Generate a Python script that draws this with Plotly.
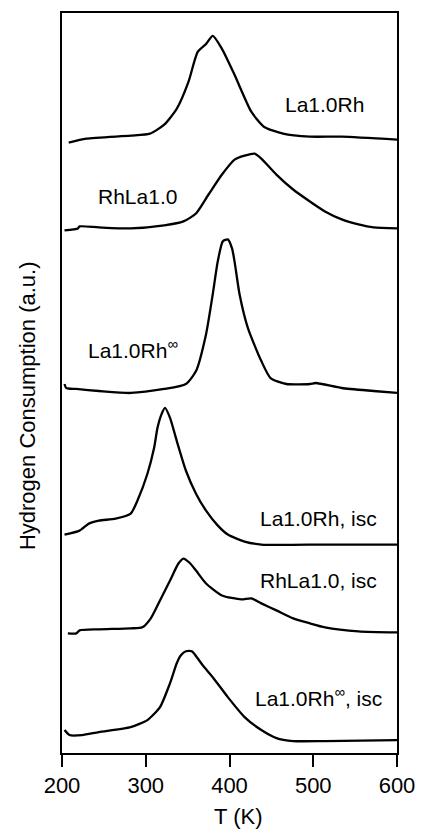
import plotly.graph_objects as go

# Temperature (K) and signal (a.u., height above each trace's own baseline)
T1 = [208, 229, 282, 305, 322, 337, 351, 362, 372, 380, 391, 406, 426, 441, 464, 496, 534, 600]
S1 = [-3, 1, 4, 6, 15, 31, 58, 88, 96, 104, 91, 65, 28, 13, 6, 3, 3, 0]

T2 = [203, 219, 221, 244, 282, 322, 345, 360, 375, 391, 406, 418, 430, 438, 456, 476, 496, 514, 534, 554, 572, 600]
S2 = [-2, 0, 2, 1, 0, 3, 7, 15, 34, 54, 69, 73, 75, 70, 54, 39, 27, 17, 9, 4, 1, 0]

T3 = [203, 205, 217, 244, 282, 322, 348, 360, 372, 380, 386, 392, 398, 403, 406, 412, 422, 438, 449, 468, 496, 503, 534, 572, 600]
S3 = [9, 5, 4, 2, 0, 4, 9, 22, 59, 99, 132, 152, 154, 145, 132, 99, 65, 32, 15, 9, 9, 10, 5, 2, 0]

T4 = [203, 221, 232, 244, 264, 282, 290, 302, 310, 314, 319, 323, 329, 337, 348, 360, 372, 385, 398, 418, 438, 514, 600]
S4 = [10, 14, 21, 24, 26, 31, 44, 71, 97, 117, 131, 137, 127, 104, 74, 51, 34, 20, 10, 3, 0, 0, 0]

T5 = [207, 217, 221, 244, 282, 296, 306, 317, 329, 339, 345, 352, 360, 372, 391, 414, 426, 438, 456, 476, 496, 514, 554, 600]
S5 = [-1, -1, 2, 3, 4, 5, 14, 32, 52, 69, 74, 70, 62, 49, 37, 33, 34, 29, 22, 14, 9, 5, 1, 0]

T6 = [203, 209, 224, 244, 282, 302, 317, 329, 337, 342, 348, 355, 361, 368, 380, 398, 418, 438, 456, 476, 514, 600]
S6 = [10, 5, 5, 8, 13, 20, 33, 57, 77, 85, 89, 89, 83, 75, 63, 43, 23, 10, 2, -1, -1, 0]

labels = ["La1.0Rh", "RhLa1.0", "La1.0Rh<sup>∞</sup>", "La1.0Rh, isc", "RhLa1.0, isc", "La1.0Rh<sup>∞</sup>, isc"]
offsets = [615, 526, 361, 209, 121, 13]
x_ticks = [200, 300, 400, 500, 600]

series = [(T1, S1), (T2, S2), (T3, S3), (T4, S4), (T5, S5), (T6, S6)]

fig = go.Figure()
for (t, s), off, name in zip(series, offsets, labels):
    fig.add_trace(go.Scatter(
        x=t, y=[v + off for v in s], mode="lines", name=name,
        line=dict(color="black", width=2.3, shape="spline", smoothing=0.6),
        showlegend=False, hoverinfo="skip"))

FONT = "Liberation Sans, Arial, sans-serif"
# label placements: (x, y, xanchor)
label_pos = [(563, 650, "right"), (240, 558, "left"), (229, 405, "left"),
             (578, 235, "right"), (578, 173, "right"), (585, 56, "right")]
for (x, y, xa), txt in zip(label_pos, labels):
    fig.add_annotation(x=x, y=y, xref="x", yref="y", text=txt, showarrow=False,
                       xanchor=xa, yanchor="middle",
                       font=dict(family=FONT, size=21, color="black"))

fig.add_annotation(x=-0.101, y=0.469, xref="paper", yref="paper",
                   text="Hydrogen Consumption (a.u.)", textangle=-90, showarrow=False,
                   xanchor="center", yanchor="middle",
                   font=dict(family=FONT, size=22, color="black"))
fig.add_annotation(x=0.525, y=-0.086, xref="paper", yref="paper",
                   text="T (K)", showarrow=False, xanchor="center", yanchor="middle",
                   font=dict(family=FONT, size=22, color="black"))

fig.update_layout(
    width=426, height=829,
    margin=dict(l=62, r=19, t=11, b=76),
    paper_bgcolor="white", plot_bgcolor="white",
    font=dict(family=FONT, size=22, color="black"),
)
fig.update_xaxes(range=[200, 600], tickvals=x_ticks, ticks="outside", ticklen=12,
                 tickwidth=2, tickcolor="black", showline=True, linewidth=2,
                 linecolor="black", mirror=True, showgrid=False, zeroline=False,
                 tickfont=dict(family=FONT, size=22, color="black"))
fig.update_yaxes(range=[0, 742], showticklabels=False, ticks="", showline=True,
                 linewidth=2, linecolor="black", mirror=True, showgrid=False,
                 zeroline=False)

fig.write_html("out.html")
